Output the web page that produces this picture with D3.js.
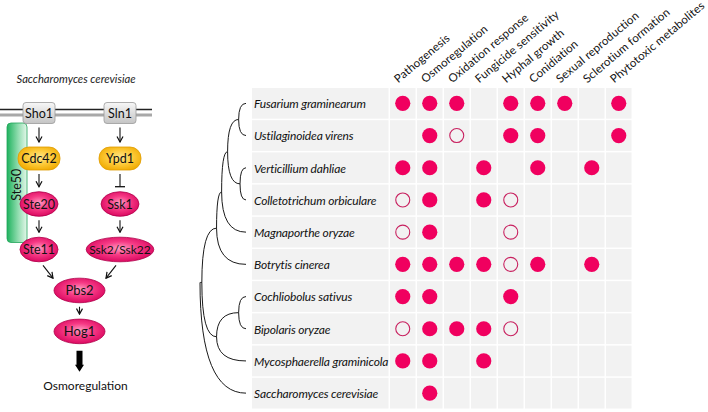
<!DOCTYPE html>
<html><head><meta charset="utf-8">
<script src="https://cdn.jsdelivr.net/npm/d3@7"></script>
<style>body{margin:0;background:#fff}svg{display:block;font-family:Lato,"Open Sans",sans-serif}</style>
</head><body><svg id="c" width="708" height="412"></svg>
<script>
// ---------------- data ----------------
const species = ["Fusarium graminearum","Ustilaginoidea virens","Verticillium dahliae","Colletotrichum orbiculare","Magnaporthe oryzae","Botrytis cinerea","Cochliobolus sativus","Bipolaris oryzae","Mycosphaerella graminicola","Saccharomyces cerevisiae"];
const traits = ["Pathogenesis","Osmoregulation","Oxidation response","Fungicide sensitivity","Hyphal growth","Conidiation","Sexual reproduction","Sclerotium formation","Phytotoxic metabolites"];
// 2 = involvement shown (filled), 1 = no involvement found (open), 0 = not reported
const roleCodes = [
  [2,2,2,0,2,2,2,0,2],
  [0,2,1,0,2,2,0,0,2],
  [2,2,0,2,0,2,0,2,0],
  [1,2,0,2,1,0,0,0,0],
  [1,2,0,0,1,0,0,0,0],
  [2,2,2,2,1,2,0,2,0],
  [2,2,0,0,2,0,0,0,0],
  [1,2,2,2,1,0,0,0,0],
  [2,2,0,2,0,0,0,0,0],
  [0,2,0,0,0,0,0,0,0]
];
// cladogram; d = relative divergence (0 root .. 1 tips)
const tree = {d:0, children:[
  {d:0.04, children:[
    {d:0.36, children:[
      {d:0.47, children:[
        {d:0.6, children:[
          {d:0.84, children:[{name:"Fusarium graminearum"},{name:"Ustilaginoidea virens"}]},
          {d:0.87, children:[{name:"Verticillium dahliae"},{name:"Colletotrichum orbiculare"}]}
        ]},
        {name:"Magnaporthe oryzae"}
      ]},
      {name:"Botrytis cinerea"}
    ]},
    {d:0.36, children:[
      {d:0.84, children:[{name:"Cochliobolus sativus"},{name:"Bipolaris oryzae"}]},
      {name:"Mycosphaerella graminicola"}
    ]}
  ]},
  {name:"Saccharomyces cerevisiae"}
]};
// HOG pathway (logical lane / level)
const pathwayTitle = "Saccharomyces cerevisiae";
const pathwayOutput = "Osmoregulation";
const scaffoldName = "Ste50";
const pathwayNodes = [
  {id:"Sho1", lane:0, level:0, kind:"sensor"},
  {id:"Sln1", lane:1, level:0, kind:"sensor"},
  {id:"Cdc42", lane:0, level:1, kind:"gtpase"},
  {id:"Ypd1", lane:1, level:1, kind:"gtpase"},
  {id:"Ste20", lane:0, level:2, kind:"kinase"},
  {id:"Ssk1", lane:1, level:2, kind:"kinase"},
  {id:"Ste11", lane:0, level:3, kind:"kinase"},
  {id:"Ssk2/Ssk22", lane:1, level:3, kind:"kinase"},
  {id:"Pbs2", lane:0.5, level:3.9, kind:"core"},
  {id:"Hog1", lane:0.5, level:4.8, kind:"core"}
];
const pathwayEdges = [
  {from:"Sho1", to:"Cdc42", type:"act"},
  {from:"Cdc42", to:"Ste20", type:"act"},
  {from:"Ste20", to:"Ste11", type:"act"},
  {from:"Sln1", to:"Ypd1", type:"act"},
  {from:"Ypd1", to:"Ssk1", type:"inh"},
  {from:"Ssk1", to:"Ssk2/Ssk22", type:"act"},
  {from:"Ste11", to:"Pbs2", type:"act"},
  {from:"Ssk2/Ssk22", to:"Pbs2", type:"act"},
  {from:"Pbs2", to:"Hog1", type:"act"}
];

// ---------------- drawing ----------------
const svg = d3.select("#c");
const defs = svg.append("defs");
function radial(id, stops){
  const g = defs.append("radialGradient").attr("id",id).attr("cx","50%").attr("cy","45%").attr("r","60%");
  stops.forEach(s=>g.append("stop").attr("offset",s[0]).attr("stop-color",s[1]));
}
function linear(id, stops, x2, y2){
  const g = defs.append("linearGradient").attr("id",id).attr("x1",0).attr("y1",0).attr("x2",x2).attr("y2",y2);
  stops.forEach(s=>g.append("stop").attr("offset",s[0]).attr("stop-color",s[1]));
}
radial("gPink", [["0%","#ff9cc2"],["45%","#f63a85"],["100%","#d6005a"]]);
radial("gGold", [["0%","#ffe88a"],["55%","#fcc835"],["100%","#f0aa00"]]);
linear("gGray", [["0%","#f7f7f7"],["100%","#c4c4c4"]], 0, 1);
linear("gGreen", [["0%","#1fb25e"],["55%","#8fdcae"],["100%","#e4f7ea"]], 1, 0);
defs.append("marker").attr("id","arr").attr("viewBox","0 0 8 8").attr("refX",7).attr("refY",4)
  .attr("markerWidth",8).attr("markerHeight",8).attr("markerUnits","userSpaceOnUse").attr("orient","auto")
  .append("path").attr("d","M1.5,1 L7,4 L1.5,7").attr("fill","none").attr("stroke","#111").attr("stroke-width",1.2);

// ---- pathway ----
const xl = d3.scaleLinear().domain([0,1]).range([39,120]);
const yl = d3.scaleLinear().domain([0,1]).range([113,158.5]);
const P = svg.append("g");
P.append("text").attr("x",16.5).attr("y",83).attr("font-size",11.2).attr("font-style","italic").attr("fill","#222").text(pathwayTitle);
// membrane
P.append("line").attr("x1",0).attr("x2",152).attr("y1",109.5).attr("y2",109.5).attr("stroke","#222").attr("stroke-width",1.3);
P.append("line").attr("x1",0).attr("x2",152).attr("y1",115).attr("y2",115).attr("stroke","#a8a8a8").attr("stroke-width",3);
// scaffold
const s0 = yl(0)+10, s1 = yl(3)-7;
P.append("rect").attr("x",7).attr("y",s0).attr("width",20).attr("height",s1-s0).attr("rx",4)
  .attr("fill","url(#gGreen)").attr("stroke","#22a55a").attr("stroke-width",0.8);
P.append("text").attr("transform",`translate(16.5,${(s0+s1)/2+2}) rotate(-90)`).attr("text-anchor","middle")
  .attr("dominant-baseline","central").attr("font-size",12.5).attr("fill","#111").text(scaffoldName);

const nodeMap = {};
pathwayNodes.forEach(n=>{
  n.x = xl(n.lane); n.y = yl(n.level);
  const g = P.append("g");
  const t = g.append("text").attr("x",n.x).attr("y",n.y).attr("text-anchor","middle").attr("dominant-baseline","central")
    .attr("font-size",n.id.length>6?12:(n.kind==="core"?13:12.5)).attr("fill","#111").text(n.id);
  const tw = t.node().getComputedTextLength();
  if(n.kind==="sensor"){ n.hw=16; n.hh=10.5;
    g.insert("rect","text").attr("x",n.x-n.hw).attr("y",n.y-n.hh).attr("width",2*n.hw).attr("height",2*n.hh).attr("rx",3)
      .attr("fill","url(#gGray)").attr("stroke","#9a9a9a").attr("stroke-width",0.8);
  } else if(n.kind==="gtpase"){ n.hw=21; n.hh=11.5;
    g.insert("rect","text").attr("x",n.x-n.hw).attr("y",n.y-n.hh).attr("width",2*n.hw).attr("height",2*n.hh).attr("rx",11)
      .attr("fill","url(#gGold)").attr("stroke","#e09c00").attr("stroke-width",0.8);
  } else { n.hw = n.kind==="core"?25.5:Math.max(19, tw/2+3); n.hh = 12.3;
    g.insert("ellipse","text").attr("cx",n.x).attr("cy",n.y).attr("rx",n.hw).attr("ry",n.hh)
      .attr("fill","url(#gPink)").attr("stroke","#b0004a").attr("stroke-width",0.8);
  }
  nodeMap[n.id]=n;
});
pathwayEdges.forEach(e=>{
  const a=nodeMap[e.from], b=nodeMap[e.to];
  let x1,y1,x2,y2;
  if(a.lane===b.lane){ x1=x2=a.x; y1=a.y+a.hh+4; y2=b.y-b.hh-5; }
  else { const dir = b.lane>a.lane?1:-1; x1=a.x+dir*4; y1=a.y+a.hh+3.5; x2=b.x-dir*(b.hw+1); y2=b.y-b.hh; }
  const l = P.append("line").attr("x1",x1).attr("y1",y1).attr("x2",x2).attr("y2",y2).attr("stroke","#111").attr("stroke-width",1.1);
  if(e.type==="act") l.attr("marker-end","url(#arr)");
  else P.append("line").attr("x1",x2-5).attr("x2",x2+5).attr("y1",y2).attr("y2",y2).attr("stroke","#111").attr("stroke-width",1.3);
});
// output arrow
const hog = nodeMap["Hog1"];
const ay0 = hog.y+hog.hh+7, ay1 = ay0+21;
P.append("path").attr("d",`M${hog.x-3},${ay0}H${hog.x+3}V${ay1-7}H${hog.x+4.5}L${hog.x},${ay1}L${hog.x-4.5},${ay1-7}H${hog.x-3}Z`).attr("fill","#000");
P.append("text").attr("x",hog.x+6).attr("y",ay1+18).attr("text-anchor","middle").attr("font-size",12).attr("fill","#111").text(pathwayOutput);

// ---- grid ----
const y = d3.scaleBand().domain(species).range([88,410]);
const xT = d3.scaleBand().domain(traits).range([390,633]);
const labelX0 = 252, gap = 1.5, bw = y.bandwidth(), cw = xT.bandwidth();
const G = svg.append("g");
species.forEach((s,i)=>{
  G.append("rect").attr("x",labelX0).attr("y",y(s)).attr("width",390-labelX0-gap).attr("height",bw-gap).attr("fill","#f2f2f2");
  traits.forEach(t=>G.append("rect").attr("x",xT(t)).attr("y",y(s)).attr("width",cw-gap).attr("height",bw-gap).attr("fill","#f2f2f2"));
  G.append("text").attr("x",labelX0+2).attr("y",y(s)+bw/2-0.5).attr("dominant-baseline","central").attr("font-size",12)
    .attr("font-style","italic").attr("letter-spacing",-0.15).attr("fill","#111").text(s);
});
const cells = [];
roleCodes.forEach((row,i)=>row.forEach((v,j)=>{ if(v) cells.push({s:species[i], t:traits[j], v}); }));
G.selectAll("circle.dot").data(cells).join("circle").attr("class","dot")
  .attr("cx",d=>xT(d.t)+(cw-gap)/2).attr("cy",d=>y(d.s)+(bw-gap)/2)
  .attr("r",d=>d.v===2?7.6:7)
  .attr("fill",d=>d.v===2?"#f0005f":"none")
  .attr("stroke",d=>d.v===2?"none":"#c8205f").attr("stroke-width",1.1);
// headers
G.selectAll("text.hdr").data(traits).join("text").attr("class","hdr")
  .attr("transform",t=>`translate(${xT(t)+(cw-gap)/2-4.5},83.5) rotate(-40)`)
  .attr("font-size",11.5).attr("letter-spacing",0.15).attr("fill","#111").text(t=>t);

// ---- tree ----
const xd = d3.scaleLinear().domain([0,1]).range([200,246]);
const root = d3.hierarchy(tree);
root.eachAfter(n=>{
  n.px = xd(n.children ? n.data.d : 1);
  if(!n.children) n.py = y(n.data.name)+(bw-gap)/2;
  else if(n.depth===0) n.py = n.children[0].py;
  else n.py = d3.mean(n.children, c=>c.py);
});
svg.append("g").selectAll("path").data(root.links()).join("path")
  .attr("d",l=>`M${l.source.px},${l.source.py}Q${l.source.px},${l.target.py} ${l.target.px},${l.target.py}`)
  .attr("fill","none").attr("stroke","#1a1a1a").attr("stroke-width",1);
</script></body></html>
